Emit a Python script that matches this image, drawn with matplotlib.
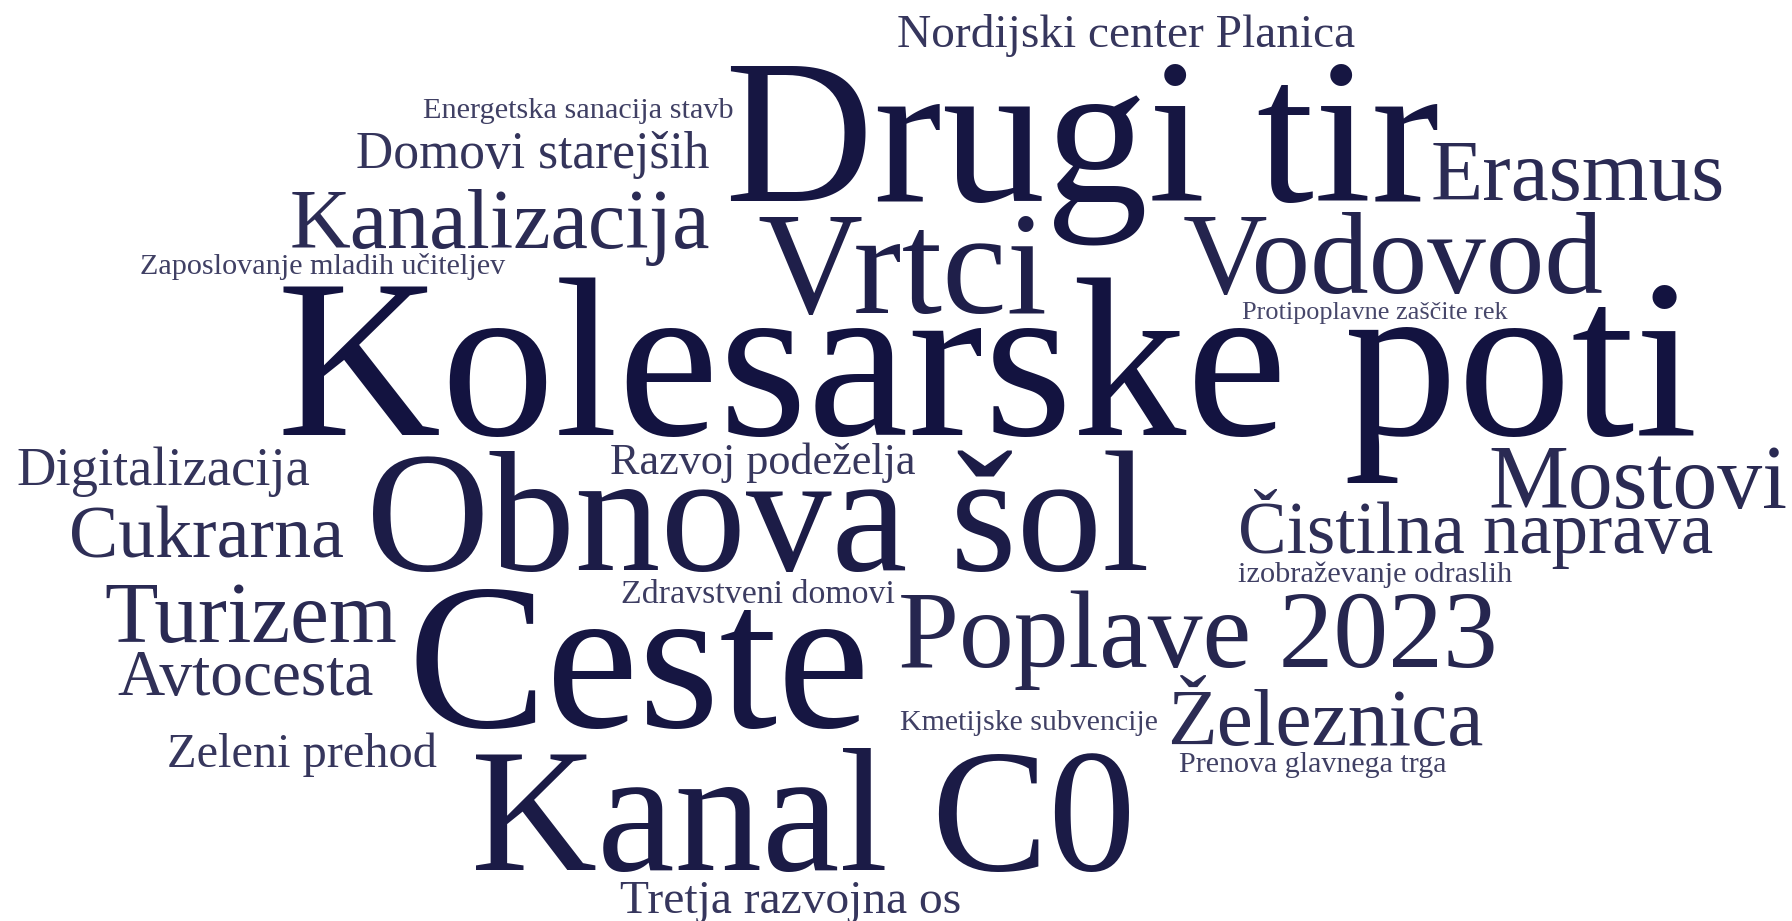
import matplotlib
matplotlib.use("Agg")
import matplotlib.pyplot as plt
from matplotlib.textpath import TextPath
from matplotlib.font_manager import FontProperties

# ---- data: word and its weight (font size in points) ----
WORDS = ["Nordijski center Planica", "Drugi tir", "Energetska sanacija stavb", "Domovi starejših",
         "Erasmus", "Kanalizacija", "Vrtci", "Vodovod", "Zaposlovanje mladih učiteljev",
         "Protipoplavne zaščite rek", "Kolesarske poti", "Digitalizacija", "Razvoj podeželja",
         "Obnova šol", "Mostovi", "Cukrarna", "Čistilna naprava", "izobraževanje odraslih",
         "Zdravstveni domovi", "Turizem", "Ceste", "Poplave 2023", "Avtocesta",
         "Kmetijske subvencije", "Železnica", "Zeleni prehod", "Prenova glavnega trga",
         "Kanal C0", "Tretja razvojna os"]
WEIGHTS = [34.1, 148.2, 21.8, 37.1,
           61.6, 60.7, 104.8, 84.3, 21.7,
           18.9, 163.7, 39.3, 31.9,
           123.1, 64.6, 53.2, 52.5, 21.9,
           24.4, 62.9, 150.0, 78.9, 47.1,
           21.5, 58.6, 34.8, 21.6,
           125.8, 34.2]

# ---- layout of the cloud: left edge of ink and baseline, in pixels ----
LAYOUT_X = [898, 731, 424, 357, 1433, 292, 759, 1184, 141, 1243, 284, 18, 611, 373, 1491,
            72, 1241, 1239, 623, 106, 416, 901, 118, 901, 1171, 169, 1180, 476, 621]
LAYOUT_Y = [47, 200, 118, 168, 200, 248, 313, 293, 274, 319, 435, 485, 474, 570, 508,
            557, 553, 582, 603, 642, 727, 667, 695, 730, 745, 767, 772, 870, 913]

FAMILY = "Liberation Serif"
BASE_COLOR = (0.075, 0.075, 0.25)
W, H = 1792, 921

fp = FontProperties(family=FAMILY)
fig = plt.figure(figsize=(W / 100, H / 100), dpi=100)
ax = fig.add_axes([0, 0, 1, 1])
ax.set_xlim(0, W)
ax.set_ylim(H, 0)
ax.axis("off")

wmin, wmax = min(WEIGHTS), max(WEIGHTS)
for word, wt, x, y in zip(WORDS, WEIGHTS, LAYOUT_X, LAYOUT_Y):
    size_px = wt * 100 / 72
    ext = TextPath((0, 0), word, size=size_px, prop=fp).get_extents()
    alpha = 0.78 + 0.22 * ((wt - wmin) / (wmax - wmin)) ** 0.5
    ax.text(x - ext.x0, y, word, fontsize=wt, family=FAMILY, ha="left", va="baseline",
            color=BASE_COLOR, alpha=alpha)

fig.savefig("out.png", dpi=100, facecolor="white")
